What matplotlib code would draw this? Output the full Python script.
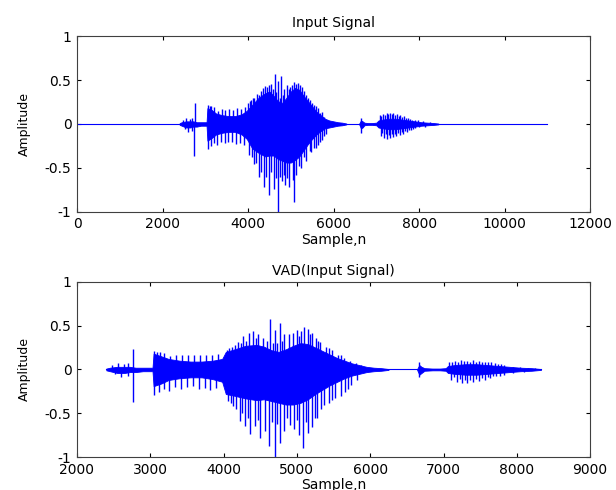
import matplotlib
matplotlib.use('Agg')
import matplotlib.pyplot as plt

plt.rcParams['font.family'] = ['DejaVu Sans']

# ---- Input signal (top) ----
in_core_x = [2400, 2450, 2550, 2650, 2720, 2800, 2900, 3000, 3030, 3050, 3150, 3250,
             3400, 3550, 3700, 3850, 3970, 4100, 4250, 4400, 4500, 4600, 4700, 4800,
             4900, 5000, 5100, 5200, 5300, 5400, 5500, 5600, 5700, 5800, 5900, 6000,
             6100, 6200, 6300]
in_core_hi = [0.01, 0.02, 0.03, 0.03, 0.03, 0.02, 0.02, 0.02, 0.02, 0.18, 0.16, 0.12,
              0.10, 0.09, 0.09, 0.11, 0.15, 0.22, 0.30, 0.35, 0.37, 0.32, 0.26, 0.24,
              0.30, 0.37, 0.41, 0.39, 0.32, 0.26, 0.20, 0.14, 0.10, 0.06, 0.04, 0.03,
              0.02, 0.015, 0.005]
in_core_lo = [-0.01, -0.02, -0.04, -0.04, -0.03, -0.03, -0.02, -0.02, -0.02, -0.19, -0.16, -0.12,
              -0.10, -0.09, -0.09, -0.12, -0.17, -0.28, -0.33, -0.37, -0.36, -0.36, -0.40, -0.42,
              -0.44, -0.44, -0.41, -0.37, -0.30, -0.23, -0.17, -0.12, -0.08, -0.05, -0.04, -0.03,
              -0.02, -0.015, -0.005]
in_core2_x = [6600, 6640, 6680, 6720, 6800, 6900, 7000, 7050, 7150, 7300, 7450, 7600,
              7750, 7900, 8050, 8200, 8350, 8450]
in_core2_hi = [0.005, 0.04, 0.03, 0.015, 0.01, 0.01, 0.015, 0.04, 0.05, 0.06, 0.06, 0.05,
               0.04, 0.03, 0.02, 0.015, 0.01, 0.005]
in_core2_lo = [-0.005, -0.05, -0.04, -0.015, -0.01, -0.01, -0.015, -0.04, -0.05, -0.06, -0.06, -0.05,
               -0.04, -0.03, -0.02, -0.015, -0.01, -0.005]
in_pk_x = [2480, 2560, 2640, 2700, 2760, 3060, 3100, 3140, 3200, 3290, 3380, 3470, 3560,
           3650, 3740, 3830, 3920, 4010, 4050, 4080, 4120, 4150, 4200, 4260, 4300, 4350,
           4400, 4443, 4480, 4534, 4580, 4626, 4660, 4700, 4740, 4782, 4820, 4850, 4900,
           4950, 4990, 5030, 5084, 5130, 5175, 5220, 5267, 5310, 5360, 5400, 5450, 5500,
           5540, 5580, 5630, 5680, 5725, 5780, 6650, 7080, 7120, 7160, 7200, 7240, 7280,
           7320, 7360, 7400, 7440, 7480, 7520, 7560, 7610, 7650, 7700, 7740, 7790, 7830,
           7900, 7980, 8100, 8250]
in_pk_v = [0.05, 0.07, 0.06, 0.07, 0.24, 0.22, 0.21, 0.20, 0.19, 0.15, 0.17, 0.16, 0.17,
           0.16, 0.18, 0.17, 0.19, 0.24, 0.26, 0.27, 0.30, 0.30, 0.34, 0.33, 0.38, 0.41,
           0.43, 0.42, 0.44, 0.46, 0.40, 0.57, 0.36, 0.49, 0.30, 0.55, 0.33, 0.40, 0.44,
           0.40, 0.42, 0.44, 0.48, 0.46, 0.47, 0.45, 0.42, 0.38, 0.33, 0.30, 0.27, 0.24,
           0.22, 0.20, 0.18, 0.12, 0.14, 0.08, 0.07, 0.10, 0.09, 0.11, 0.10, 0.12, 0.11,
           0.12, 0.11, 0.12, 0.10, 0.11, 0.09, 0.10, 0.08, 0.09, 0.07, 0.07, 0.06, 0.05,
           0.04, 0.04, 0.03, 0.02]
in_tr_x = [2520, 2600, 2680, 2730, 3060, 3130, 3200, 3280, 3360, 3450, 3540, 3630, 3720,
           3810, 3900, 4030, 4090, 4150, 4190, 4260, 4310, 4370, 4430, 4490, 4540, 4600,
           4650, 4690, 4740, 4790, 4830, 4873, 4920, 4965, 5040, 5084, 5130, 5194, 5250,
           5313, 5350, 5450, 5480, 5540, 5580, 5630, 5680, 5720, 5780, 5830, 6650, 7100,
           7140, 7180, 7220, 7250, 7290, 7330, 7370, 7400, 7440, 7470, 7510, 7550, 7590,
           7630, 7680, 7720, 7760, 7800, 7850, 7900, 8000, 8150]
in_tr_v = [-0.06, -0.09, -0.08, -0.36, -0.28, -0.25, -0.22, -0.24, -0.20, -0.22, -0.20, -0.20, -0.23,
           -0.22, -0.24, -0.35, -0.38, -0.46, -0.45, -0.60, -0.55, -0.72, -0.60, -0.81, -0.55, -0.74,
           -0.62, -1.0, -0.60, -0.65, -0.58, -0.70, -0.62, -0.72, -0.64, -0.89, -0.58, -0.48, -0.50,
           -0.38, -0.42, -0.31, -0.32, -0.27, -0.27, -0.24, -0.20, -0.18, -0.14, -0.12, -0.10, -0.14,
           -0.10, -0.16, -0.12, -0.17, -0.13, -0.16, -0.12, -0.15, -0.11, -0.14, -0.10, -0.13, -0.09,
           -0.12, -0.08, -0.09, -0.07, -0.07, -0.06, -0.05, -0.04, -0.03]
in_zero = [0, 11000]

# ---- VAD output (bottom) ----
vad_core_x = [2400, 2450, 2550, 2650, 2720, 2800, 2900, 3000, 3030, 3045, 3150, 3250,
              3400, 3550, 3700, 3850, 3980, 4030, 4150, 4300, 4450, 4550, 4650, 4750,
              4850, 4950, 5050, 5150, 5250, 5350, 5450, 5550, 5650, 5750, 5850, 5950,
              6050, 6150, 6250]
vad_core_hi = [0.01, 0.02, 0.03, 0.03, 0.03, 0.02, 0.02, 0.02, 0.02, 0.18, 0.15, 0.12,
               0.10, 0.09, 0.09, 0.10, 0.12, 0.20, 0.23, 0.27, 0.28, 0.26, 0.22, 0.20,
               0.23, 0.27, 0.30, 0.29, 0.25, 0.21, 0.17, 0.13, 0.10, 0.07, 0.05, 0.03,
               0.02, 0.015, 0.005]
vad_core_lo = [-0.01, -0.02, -0.04, -0.04, -0.03, -0.03, -0.02, -0.02, -0.02, -0.19, -0.16, -0.12,
               -0.10, -0.09, -0.09, -0.11, -0.14, -0.28, -0.30, -0.33, -0.35, -0.34, -0.36, -0.38,
               -0.40, -0.40, -0.38, -0.34, -0.28, -0.23, -0.18, -0.14, -0.10, -0.07, -0.05, -0.03,
               -0.02, -0.015, -0.005]
vad_core2_x = [6640, 6670, 6700, 6740, 6850, 6950, 7030, 7060, 7150, 7300, 7450, 7600,
               7750, 7900, 8050, 8200, 8330]
vad_core2_hi = [0.005, 0.05, 0.03, 0.015, 0.01, 0.01, 0.015, 0.04, 0.05, 0.06, 0.06, 0.05,
                0.04, 0.03, 0.02, 0.015, 0.005]
vad_core2_lo = [-0.005, -0.06, -0.04, -0.015, -0.01, -0.01, -0.015, -0.04, -0.05, -0.06, -0.06, -0.05,
                -0.04, -0.03, -0.02, -0.015, -0.005]
vad_pk_x = [2480, 2560, 2640, 2700, 2764, 3050, 3090, 3130, 3190, 3270, 3350, 3430, 3510,
            3600, 3680, 3760, 3840, 3920, 4040, 4080, 4120, 4160, 4200, 4240, 4270, 4310,
            4340, 4400, 4440, 4470, 4540, 4590, 4634, 4670, 4700, 4730, 4763, 4800, 4830,
            4890, 4940, 5000, 5030, 5060, 5100, 5150, 5180, 5210, 5260, 5290, 5320, 5400,
            5440, 5480, 5560, 5600, 5640, 5720, 5800, 5880, 6665, 7080, 7120, 7160, 7200,
            7240, 7280, 7320, 7360, 7400, 7440, 7480, 7520, 7560, 7610, 7650, 7700, 7740,
            7790, 7830, 7950, 8050, 8150, 8250]
vad_pk_v = [0.05, 0.07, 0.06, 0.07, 0.23, 0.21, 0.20, 0.20, 0.19, 0.15, 0.17, 0.16, 0.17,
            0.16, 0.17, 0.16, 0.17, 0.18, 0.22, 0.24, 0.26, 0.28, 0.31, 0.30, 0.38, 0.33,
            0.42, 0.44, 0.36, 0.40, 0.36, 0.32, 0.57, 0.30, 0.45, 0.30, 0.53, 0.32, 0.40,
            0.40, 0.42, 0.45, 0.38, 0.44, 0.48, 0.46, 0.40, 0.42, 0.36, 0.33, 0.31, 0.26,
            0.24, 0.22, 0.17, 0.16, 0.13, 0.10, 0.07, 0.05, 0.08, 0.09, 0.08, 0.10, 0.09,
            0.11, 0.10, 0.10, 0.09, 0.11, 0.09, 0.10, 0.09, 0.09, 0.08, 0.08, 0.07, 0.06,
            0.06, 0.05, 0.03, 0.03, 0.02, 0.02]
vad_tr_x = [2520, 2600, 2690, 2764, 3050, 3120, 3190, 3260, 3340, 3420, 3500, 3580, 3660,
            3740, 3820, 3900, 4057, 4100, 4130, 4170, 4218, 4250, 4290, 4330, 4362, 4430,
            4470, 4500, 4560, 4618, 4660, 4699, 4730, 4763, 4830, 4870, 4902, 4960, 5000,
            5030, 5089, 5120, 5150, 5210, 5240, 5280, 5330, 5367, 5440, 5480, 5520, 5600,
            5660, 5700, 5740, 5820, 6665, 7100, 7140, 7180, 7220, 7250, 7290, 7317, 7360,
            7400, 7440, 7480, 7520, 7560, 7600, 7640, 7680, 7720, 7770, 7820, 7950, 8100]
vad_tr_v = [-0.05, -0.09, -0.07, -0.37, -0.29, -0.26, -0.22, -0.24, -0.20, -0.22, -0.20, -0.19, -0.22,
            -0.21, -0.23, -0.21, -0.36, -0.38, -0.42, -0.45, -0.59, -0.50, -0.65, -0.55, -0.74, -0.65,
            -0.58, -0.78, -0.70, -0.87, -0.60, -1.0, -0.62, -0.84, -0.70, -0.55, -0.63, -0.68, -0.58,
            -0.75, -0.89, -0.60, -0.72, -0.66, -0.55, -0.55, -0.45, -0.40, -0.38, -0.35, -0.32, -0.30,
            -0.26, -0.22, -0.18, -0.12, -0.09, -0.12, -0.09, -0.14, -0.11, -0.15, -0.12, -0.16, -0.12,
            -0.14, -0.11, -0.13, -0.10, -0.12, -0.09, -0.10, -0.08, -0.08, -0.07, -0.06, -0.04, -0.03]
vad_zero = [2400, 8330]

blue = '#0000ff'
fs = 10


def draw(ax, zero, cores, pk_x, pk_v, tr_x, tr_v):
    ax.plot(zero, [0, 0], color=blue, lw=0.8)
    for cx, hi, lo in cores:
        ax.fill_between(cx, lo, hi, color=blue, lw=0.6)
    ax.vlines(pk_x, 0, pk_v, color=blue, lw=1.0)
    ax.vlines(tr_x, 0, tr_v, color=blue, lw=1.0)
    ax.set_ylim(-1, 1)
    ax.set_yticks([-1, -0.5, 0, 0.5, 1])
    ax.set_yticklabels(['-1', '-0.5', '0', '0.5', '1'])
    ax.tick_params(direction='in', top=True, right=True, labelsize=fs, length=3, pad=4)
    for s in ax.spines.values():
        s.set_color('#404040')
    ax.set_ylabel('Amplitude', fontsize=9, labelpad=10)
    ax.set_xlabel('Sample,n', fontsize=fs, labelpad=1)


fig = plt.figure(figsize=(6.16, 4.9), dpi=100)
ax1 = fig.add_axes([0.125, 0.568, 0.833, 0.358])
ax2 = fig.add_axes([0.125, 0.067, 0.833, 0.358])

draw(ax1, in_zero, [(in_core_x, in_core_hi, in_core_lo), (in_core2_x, in_core2_hi, in_core2_lo)],
     in_pk_x, in_pk_v, in_tr_x, in_tr_v)
ax1.set_xlim(0, 12000)
ax1.set_xticks(range(0, 12001, 2000))
ax1.set_title('Input Signal', fontsize=fs, pad=7)

draw(ax2, vad_zero, [(vad_core_x, vad_core_hi, vad_core_lo), (vad_core2_x, vad_core2_hi, vad_core2_lo)],
     vad_pk_x, vad_pk_v, vad_tr_x, vad_tr_v)
ax2.set_xlim(2000, 9000)
ax2.set_xticks(range(2000, 9001, 1000))
ax2.set_title('VAD(Input Signal)', fontsize=fs, pad=5)

plt.savefig('out.png', dpi=100)
